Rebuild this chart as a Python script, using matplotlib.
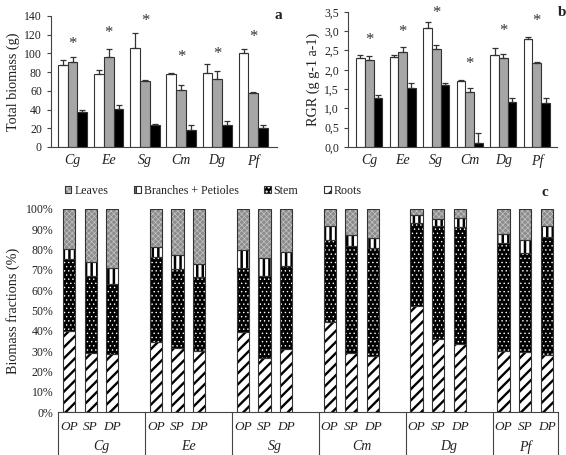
import numpy as np
import matplotlib
matplotlib.use('Agg')
import matplotlib.pyplot as plt
from matplotlib.patches import Patch
from matplotlib.legend_handler import HandlerTuple

plt.rcParams['font.family'] = ['Liberation Serif']
plt.rcParams['hatch.linewidth'] = 1.0

species = ['Cg', 'Ee', 'Sg', 'Cm', 'Dg', 'Pf']
treatments = ['OP', 'SP', 'DP']

# panel a: total biomass (g)
biomass_op = [88, 78, 106, 78, 79, 100]
biomass_sp = [91, 96, 70, 61, 73, 58]
biomass_dp = [37, 41, 23, 18, 24, 20]
biomass_op_err = [4.5, 4, 16, 1, 10, 5]
biomass_sp_err = [5, 8.5, 2, 5, 8.5, 1]
biomass_dp_err = [2, 4, 2, 5.5, 3.5, 4]
biomass_star = [110, 122, 135, 96, 99, 117]

# panel b: RGR (g g-1 a-1)
rgr_op = [2.31, 2.33, 3.09, 1.71, 2.39, 2.79]
rgr_sp = [2.24, 2.45, 2.54, 1.42, 2.31, 2.18]
rgr_dp = [1.27, 1.54, 1.60, 0.09, 1.16, 1.14]
rgr_op_err = [0.07, 0.04, 0.15, 0.02, 0.18, 0.06]
rgr_sp_err = [0.11, 0.13, 0.11, 0.12, 0.11, 0.01]
rgr_dp_err = [0.07, 0.12, 0.05, 0.27, 0.12, 0.14]
rgr_star = [2.78, 2.98, 3.48, 2.16, 3.01, 3.26]

# panel c: biomass fractions (%), order Cg OP/SP/DP, Ee OP/SP/DP, ...
roots = [40.0, 29.0, 28.8, 34.4, 31.3, 30.0, 39.5, 26.4, 31.0,
         44.5, 29.0, 27.7, 52.2, 36.2, 33.3, 30.1, 29.7, 28.3]
stem = [35.6, 38.0, 34.2, 41.9, 39.2, 36.4, 31.3, 40.8, 41.0,
        40.0, 53.0, 53.0, 40.8, 55.6, 57.8, 53.1, 48.6, 57.9]
branches = [4.6, 7.0, 7.8, 4.9, 6.9, 6.4, 9.1, 8.6, 6.7,
            6.9, 5.3, 5.0, 4.2, 3.4, 4.5, 4.6, 6.5, 5.2]
leaves = [19.8, 26.0, 29.2, 18.8, 22.6, 27.2, 20.1, 24.2, 21.3,
          8.6, 12.7, 14.3, 2.8, 4.8, 4.4, 12.2, 15.2, 8.6]

TXT = '#222222'
AXC = '#444444'


def style_axes(ax):
    for s in ['top', 'right']:
        ax.spines[s].set_visible(False)
    for s in ['left', 'bottom']:
        ax.spines[s].set_color(AXC)
        ax.spines[s].set_linewidth(0.8)
    ax.tick_params(axis='y', colors=TXT, labelsize=8.5, length=3, width=0.8, direction='out')
    ax.tick_params(axis='y', color=AXC)
    ax.tick_params(axis='x', length=0, labelsize=10, colors=TXT, pad=5)


def grouped_bars(ax, vals, errs, stars, width):
    x = np.arange(len(species))
    colors = ['white', '#a6a6a6', 'black']
    for i, (v, e, c) in enumerate(zip(vals, errs, colors)):
        xi = x + (i - 1) * width
        ax.bar(xi, v, width, color=c, edgecolor='#333333', linewidth=0.8, zorder=2)
        ax.errorbar(xi, v, yerr=[np.zeros(len(v)), e], fmt='none', ecolor='#333333',
                    elinewidth=0.9, capsize=2.5, capthick=0.9, zorder=3)
    for xs, ys in zip(x, stars):
        ax.text(xs, ys, '*', ha='center', va='center', fontsize=12, color='#333333')
    ax.set_xticks(x)
    ax.set_xticklabels(species, style='italic')


fig = plt.figure(figsize=(5.66, 4.55), dpi=100)

# panel a
ax_a = fig.add_axes([0.090, 0.677, 0.399, 0.288])
grouped_bars(ax_a, [biomass_op, biomass_sp, biomass_dp],
             [biomass_op_err, biomass_sp_err, biomass_dp_err], biomass_star, 0.27)
ax_a.set_ylim(0, 140)
ax_a.set_yticks(range(0, 141, 20))
ax_a.set_xlim(-0.6, 5.65)
ax_a.set_ylabel('Total biomass (g)', fontsize=10.2, color=TXT, labelpad=3)
style_axes(ax_a)
fig.text(0.492, 0.965, 'a', fontsize=11, fontweight='bold', ha='center', va='center', color=TXT)

# panel b
ax_b = fig.add_axes([0.615, 0.677, 0.369, 0.297])
grouped_bars(ax_b, [rgr_op, rgr_sp, rgr_dp],
             [rgr_op_err, rgr_sp_err, rgr_dp_err], rgr_star, 0.26)
ax_b.set_ylim(0, 3.5)
ax_b.set_yticks(np.arange(0, 3.51, 0.5))
ax_b.set_yticklabels([f'{t:.1f}'.replace('.', ',') for t in np.arange(0, 3.51, 0.5)])
ax_b.set_xlim(-0.63, 5.6)
ax_b.set_ylabel('RGR (g g-1 a-1)', fontsize=10.2, color=TXT, labelpad=3)
style_axes(ax_b)
fig.text(0.993, 0.972, 'b', fontsize=11, fontweight='bold', ha='center', va='center', color=TXT)

# panel c
ax_c = fig.add_axes([0.1025, 0.0945, 0.883, 0.4462])
slots = np.array([g * 4 + j + 0.5 for g in range(len(species)) for j in range(3)])
bw = 0.56

layers = [
    ('Roots', roots, dict(color='white', hatch='///', hc='black', hlw=1.7)),
    ('Stem', stem, dict(color='black', hatch='....', hc='white', hlw=0.5)),
    ('Branches + Petioles', branches, dict(color='white', hatch='|||', hc='black', hlw=1.8)),
    ('Leaves', leaves, dict(color='#8c8c8c', hatch='xxxxxx', hc='#c4c4c4', hlw=0.5)),
]
bottom = np.zeros(len(slots))
for name, vals, st in layers:
    vals = np.array(vals)
    with plt.rc_context({'hatch.linewidth': st['hlw']}):
        bars = ax_c.bar(slots, vals, bw, bottom=bottom, color=st['color'], edgecolor=st['hc'],
                        hatch=st['hatch'], linewidth=0, zorder=2)
    for b in bars:
        if hasattr(b, 'set_hatch_linewidth'):
            b.set_hatch_linewidth(st['hlw'])
    ax_c.bar(slots, vals, bw, bottom=bottom, color='none', edgecolor='#333333',
             linewidth=0.8, zorder=3)
    bottom += vals

ax_c.set_ylim(0, 100)
ax_c.set_xlim(0, 23)
ax_c.set_yticks(range(0, 101, 10))
ax_c.set_yticklabels([f'{t}%' for t in range(0, 101, 10)])
ax_c.set_ylabel('Biomass fractions (%)', fontsize=10.2, color=TXT, labelpad=4)
style_axes(ax_c)
ax_c.spines['left'].set_visible(False)
ax_c.tick_params(axis='y', length=0)
ax_c.set_xticks([])

tr = ax_c.get_xaxis_transform()
for s, t in zip(slots, treatments * len(species)):
    ax_c.text(s, -0.074, t, transform=tr, ha='center', va='center', fontsize=9.5,
              style='italic', color=TXT)
bounds = [0, 4, 8, 12, 16, 20, 23]
for b in bounds:
    ax_c.plot([b, b], [0, -0.215], transform=tr, color=AXC, lw=0.8, clip_on=False)
for g, name in enumerate(species):
    mid = (bounds[g] + bounds[g + 1]) / 2
    ax_c.text(mid, -0.172, name, transform=tr, ha='center', va='center', fontsize=10,
              style='italic', color=TXT)

# legend: hatched fill plus a dark outline on top (overlaid, not split)
handles = []
for name, vals, st in layers[::-1]:
    with plt.rc_context({'hatch.linewidth': st['hlw']}):
        h = Patch(facecolor=st['color'], edgecolor=st['hc'], hatch=st['hatch'], linewidth=0)
    if hasattr(h, 'set_hatch_linewidth'):
        h.set_hatch_linewidth(st['hlw'])
    outline = Patch(facecolor='none', edgecolor='#333333', linewidth=0.8)
    handles.append((h, outline))
labels = [name for name, vals, st in layers[::-1]]
fig.legend(handles, labels, loc='center left', bbox_to_anchor=(0.104, 0.580), ncol=4,
           frameon=False, fontsize=8.6, handlelength=0.55, handleheight=0.55,
           handletextpad=0.25, columnspacing=2.15, borderpad=0, labelcolor=TXT,
           handler_map={tuple: HandlerTuple(ndivide=1, pad=0)})
fig.text(0.963, 0.578, 'c', fontsize=11, fontweight='bold', ha='center', va='center', color=TXT)

fig.savefig('out.png', dpi=100)
